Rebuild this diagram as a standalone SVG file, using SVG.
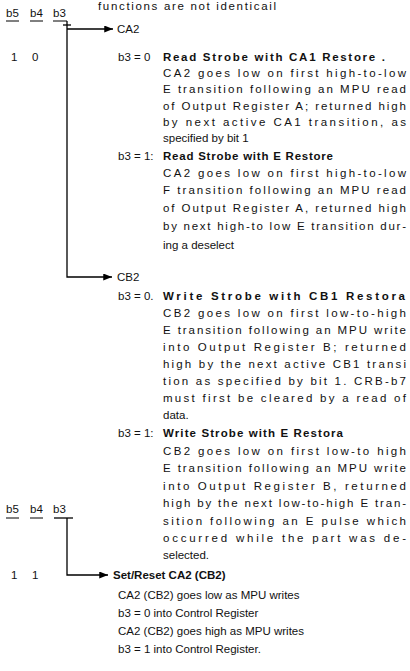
<svg xmlns="http://www.w3.org/2000/svg" width="410" height="671" viewBox="0 0 410 671">
<defs>
<marker id="ah" viewBox="0 0 10 8" refX="10" refY="4" markerWidth="10" markerHeight="7" markerUnits="userSpaceOnUse" orient="auto"><path d="M0,0 L10,4 L0,8 z" fill="#000"/></marker>
</defs>
<style>
text{font-family:"Liberation Sans",Arial,sans-serif;font-size:11.5px;fill:#111}
.b{font-weight:bold}
.ln{stroke:#000;stroke-width:1.3;fill:none}
.ul{stroke:#000;stroke-width:1}
</style>
<rect width="410" height="671" fill="#fff"/>
<text x="98" y="10" textLength="178" lengthAdjust="spacing">functions are not identicail</text>

<g id="header1">
<text x="6" y="17">b5</text><text x="30" y="17">b4</text><text x="53" y="17">b3</text>
<line class="ul" x1="6" y1="21" x2="19" y2="21"/><line class="ul" x1="30" y1="21" x2="43" y2="21"/><line class="ul" x1="53" y1="21" x2="67" y2="21"/>
<text x="11" y="61">1</text><text x="32" y="61">0</text>
</g>

<g id="connectors">
<path class="ln" d="M67,21 V277 H112" marker-end="url(#ah)"/>
<path class="ln" d="M63,25 H71"/>
<path class="ln" d="M67,29 H113" marker-end="url(#ah)"/>
<path class="ln" d="M54,518 H73"/>
<path class="ln" d="M67,518 V575 H108" marker-end="url(#ah)"/>
</g>

<g id="ca2">
<text x="117" y="33">CA2</text>
<text x="118" y="61">b3 = 0</text>
<text class="b" x="163" y="61" textLength="222" lengthAdjust="spacing">Read Strobe with CA1 Restore .</text>
<text x="163" y="77" textLength="243" lengthAdjust="spacing">CA2 goes low on first high-to-low</text>
<text x="163" y="93" textLength="243" lengthAdjust="spacing">E transition following an MPU read</text>
<text x="163" y="110" textLength="243" lengthAdjust="spacing">of Output Register A; returned high</text>
<text x="163" y="126" textLength="243" lengthAdjust="spacing">by next active CA1 transition, as</text>
<text x="163" y="142">specified by bit 1</text>
<text x="118" y="160">b3 = 1:</text>
<text class="b" x="163" y="160" textLength="170" lengthAdjust="spacing">Read Strobe with E Restore</text>
<text x="163" y="177" textLength="243" lengthAdjust="spacing">CA2 goes low on first high-to-low</text>
<text x="163" y="194" textLength="243" lengthAdjust="spacing">F transition following an MPU read</text>
<text x="163" y="212" textLength="243" lengthAdjust="spacing">of Output Register A, returned high</text>
<text x="163" y="230" textLength="243" lengthAdjust="spacing">by next high-to low E transition dur-</text>
<text x="163" y="249">ing a deselect</text>
</g>

<g id="cb2">
<text x="117" y="281">CB2</text>
<text x="118" y="300">b3 = 0.</text>
<text class="b" x="163" y="300" textLength="242" lengthAdjust="spacing">Write Strobe with CB1 Restora</text>
<text x="163" y="317" textLength="243" lengthAdjust="spacing">CB2 goes low on first low-to-high</text>
<text x="163" y="334" textLength="243" lengthAdjust="spacing">E transition following an MPU write</text>
<text x="163" y="351" textLength="243" lengthAdjust="spacing">into Output Register B; returned</text>
<text x="163" y="368" textLength="243" lengthAdjust="spacing">high by the next active CB1 transi</text>
<text x="163" y="385" textLength="243" lengthAdjust="spacing">tion as specified by bit 1. CRB-b7</text>
<text x="163" y="402" textLength="243" lengthAdjust="spacing">must first be cleared by a read of</text>
<text x="163" y="419">data.</text>
<text x="118" y="437">b3 = 1:</text>
<text class="b" x="163" y="437" textLength="180" lengthAdjust="spacing">Write Strobe with E Restora</text>
<text x="163" y="455" textLength="243" lengthAdjust="spacing">CB2 goes low on first low-to high</text>
<text x="163" y="472" textLength="243" lengthAdjust="spacing">E transition following an MPU write</text>
<text x="163" y="490" textLength="243" lengthAdjust="spacing">into Output Register B, returned</text>
<text x="163" y="507" textLength="243" lengthAdjust="spacing">high by the next low-to-high E tran-</text>
<text x="163" y="525" textLength="243" lengthAdjust="spacing">sition following an E pulse which</text>
<text x="163" y="542" textLength="243" lengthAdjust="spacing">occurred while the part was de-</text>
<text x="163" y="559">selected.</text>
</g>

<g id="header2">
<text x="6" y="513">b5</text><text x="30" y="513">b4</text><text x="53" y="513">b3</text>
<line class="ul" x1="6" y1="518" x2="19" y2="518"/><line class="ul" x1="30" y1="518" x2="43" y2="518"/>
<text x="11" y="579">1</text><text x="32" y="579">1</text>
</g>

<g id="setreset">
<text class="b" x="113" y="579">Set/Reset CA2 (CB2)</text>
<text x="118" y="599">CA2 (CB2) goes low as MPU writes</text>
<text x="118" y="617">b3 = 0 into Control Register</text>
<text x="118" y="635">CA2 (CB2) goes high as MPU writes</text>
<text x="118" y="653">b3 = 1 into Control Register.</text>
</g>
</svg>
